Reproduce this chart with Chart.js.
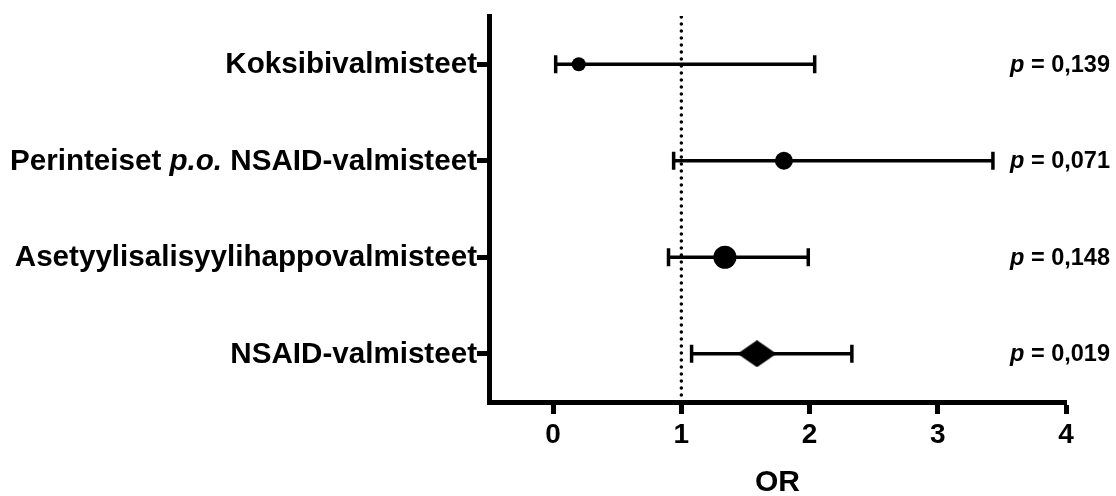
<!DOCTYPE html>
<html>
<head>
<meta charset="utf-8">
<script src="https://cdn.jsdelivr.net/npm/chart.js@4/dist/chart.umd.min.js"></script>
<style>
  body { margin: 0; background: #fff; }
  #wrap { width: 1116px; height: 496px; }
</style>
</head>
<body>
<div id="wrap"><canvas id="chart"></canvas></div>
<script>
// forest plot data, top row first (*...* = italic)
const rowLabels = ['Koksibivalmisteet', 'Perinteiset *p.o.* NSAID-valmisteet', 'Asetyylisalisyylihappovalmisteet', 'NSAID-valmisteet'];
const rowPos = [4, 3, 2, 1];
const orValues = [0.2, 1.8, 1.34, 1.59];
const ciLow = [0.02, 0.94, 0.9, 1.08];
const ciHigh = [2.04, 3.43, 1.99, 2.33];
const pValues = ['0,139', '0,071', '0,148', '0,019'];
const xTicks = [0, 1, 2, 3, 4];
const refLine = 1;

const FONT = '"Liberation Sans", Arial, Helvetica, sans-serif';
const markerSize = [7, 9, 11.5, 14];

// diamond marker for the pooled estimate
function makeDiamond(w, h) {
  const c = document.createElement('canvas');
  c.width = w;
  c.height = h;
  const g = c.getContext('2d');
  g.fillStyle = '#000';
  g.beginPath();
  g.moveTo(w / 2, 0);
  g.lineTo(w, h / 2);
  g.lineTo(w / 2, h);
  g.lineTo(0, h / 2);
  g.closePath();
  g.fill();
  return c;
}
const diamond = makeDiamond(39, 27);

function drawRich(ctx, parts, xRight, y, size) {
  let total = 0;
  parts.forEach(p => {
    ctx.font = (p.italic ? 'italic ' : '') + 'bold ' + size + 'px ' + FONT;
    p.w = ctx.measureText(p.text).width;
    total += p.w;
  });
  let x = xRight - total;
  parts.forEach(p => {
    ctx.font = (p.italic ? 'italic ' : '') + 'bold ' + size + 'px ' + FONT;
    ctx.fillText(p.text, x, y);
    x += p.w;
  });
}

const labelPlugin = {
  id: 'labels',
  afterDraw(chart) {
    const ctx = chart.ctx;
    const yScale = chart.scales.y;
    const area = chart.chartArea;
    ctx.save();
    ctx.fillStyle = '#000';
    ctx.textAlign = 'left';
    ctx.textBaseline = 'middle';
    rowLabels.forEach((label, i) => {
      const y = yScale.getPixelForValue(rowPos[i]);
      const parts = label.split('*').map((t, k) => ({ text: t, italic: k % 2 === 1 }));
      drawRich(ctx, parts, area.left - 12, y + 1, 29.6);
      drawRich(ctx, [{ text: 'p', italic: true }, { text: ' = ' + pValues[i] }], chart.width - 6, y + 1, 23.5);
    });
    ctx.restore();
  }
};

const datasets = [];
datasets.push({
  type: 'scatter',
  data: orValues.map((v, i) => ({ x: v, y: rowPos[i] })),
  pointStyle: ['circle', 'circle', 'circle', diamond],
  pointRadius: markerSize,
  backgroundColor: '#000',
  borderColor: '#000',
  borderWidth: 0
});
rowPos.forEach((y, i) => {
  datasets.push({
    type: 'line',
    data: [{ x: ciLow[i], y: y }, { x: ciHigh[i], y: y }],
    borderColor: '#000',
    borderWidth: 3.5,
    pointStyle: 'line',
    pointRotation: 90,
    pointRadius: 9,
    pointBorderWidth: 3.5,
    pointBorderColor: '#000'
  });
});
datasets.push({
  type: 'line',
  data: [{ x: refLine, y: 0.5 }, { x: refLine, y: 4.5 }],
  borderColor: '#000',
  borderWidth: 3.5,
  borderDash: [0, 7],
  borderCapStyle: 'round',
  pointRadius: 0
});

new Chart(document.getElementById('chart'), {
  data: { datasets: datasets },
  options: {
    responsive: true,
    maintainAspectRatio: false,
    animation: false,
    layout: { padding: { top: 16, right: 50, left: 0, bottom: 0 } },
    plugins: { legend: { display: false }, tooltip: { enabled: false } },
    scales: {
      x: {
        type: 'linear',
        min: -0.5,
        max: 4,
        afterBuildTicks: s => { s.ticks = xTicks.map(v => ({ value: v })); },
        afterFit: s => { s.height = 94; },
        ticks: { color: '#000', font: { family: FONT, size: 28, weight: 'bold' }, padding: 4 },
        grid: { drawOnChartArea: false, tickLength: 12, tickWidth: 5, tickColor: '#000' },
        border: { display: true, width: 5, color: '#000' },
        title: { display: true, text: 'OR', color: '#000', font: { family: FONT, size: 30, weight: 'bold', lineHeight: 0.9 }, padding: 0 }
      },
      y: {
        type: 'linear',
        min: 0.5,
        max: 4.5,
        afterBuildTicks: s => { s.ticks = rowPos.map(v => ({ value: v })); },
        afterFit: s => { s.width = 489; },
        ticks: { display: false },
        grid: { drawOnChartArea: false, tickLength: 12, tickWidth: 5, tickColor: '#000' },
        border: { display: true, width: 5, color: '#000' }
      }
    }
  },
  plugins: [labelPlugin]
});
</script>
</body>
</html>
